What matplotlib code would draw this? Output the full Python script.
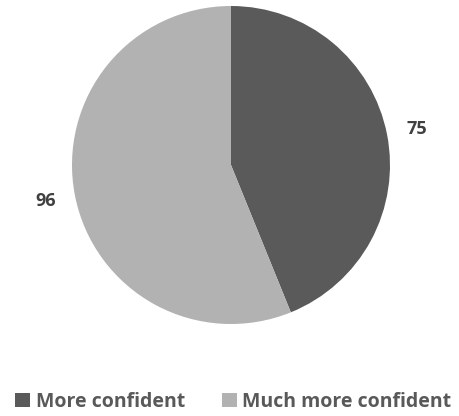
import matplotlib.pyplot as plt
from matplotlib.patches import Patch

labels = ["More confident", "Much more confident"]
values = [75, 96]
colors = ["#5a5a5a", "#b2b2b2"]

plt.rcParams['font.family'] = ['Open Sans', 'DejaVu Sans']

fig = plt.figure(figsize=(4.6, 4.16), dpi=100)
ax = fig.add_axes([72 / 460, (416 - 324) / 416, 318 / 460, 318 / 416])

wedges, texts = ax.pie(values, colors=colors, startangle=90, counterclock=False,
                       labels=[str(v) for v in values], labeldistance=1.19,
                       textprops=dict(fontsize=13, fontweight='bold', color='#404040'))
for t in texts:
    t.set_horizontalalignment('center')
    t.set_verticalalignment('center')
ax.set_xlim(-1, 1)
ax.set_ylim(-1, 1)
ax.set_aspect('equal')

handles = [Patch(facecolor=c, edgecolor='none') for c in colors]
fig.legend(handles, labels, loc='center', bbox_to_anchor=(233.5 / 460, 1 - 402 / 416),
           ncol=2, frameon=False, handlelength=0.75, handleheight=0.75,
           handletextpad=0.3, columnspacing=1.9, labelcolor='#595959',
           borderpad=0, borderaxespad=0,
           prop=dict(size=14, weight='bold'))

fig.savefig("out.png", dpi=100)
